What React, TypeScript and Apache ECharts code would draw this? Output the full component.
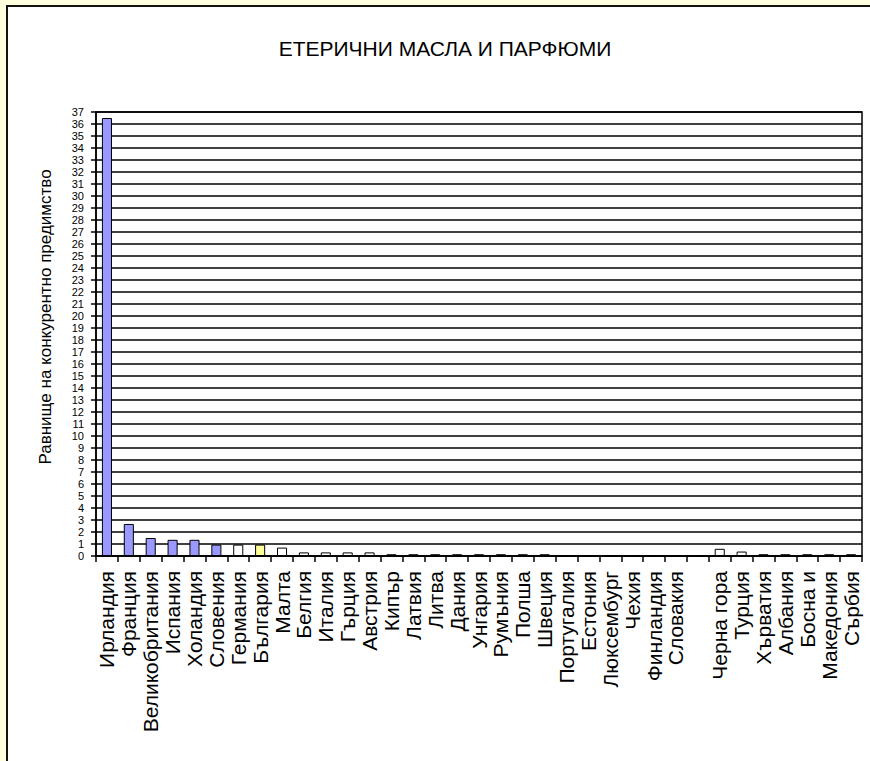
import React, { useEffect, useRef } from "react";
import * as echarts from "echarts";

const TITLE = "ЕТЕРИЧНИ МАСЛА И ПАРФЮМИ";
const Y_NAME = "Равнище на конкурентно предимство";

const categories: string[] = [
  "Ирландия", "Франция", "Великобритания", "Испания", "Холандия", "Словения",
  "Германия", "България", "Малта", "Белгия", "Италия", "Гърция", "Австрия",
  "Кипър", "Латвия", "Литва", "Дания", "Унгария", "Румъния", "Полша", "Швеция",
  "Португалия", "Естония", "Люксембург", "Чехия", "Финландия", "Словакия", "",
  "Черна гора", "Турция", "Хърватия", "Албания", "Босна и", "Македония", "Сърбия",
];

const values: number[] = [
  36.5, 2.67, 1.5, 1.35, 1.35, 0.95,
  0.95, 0.95, 0.7, 0.3, 0.3, 0.3, 0.3,
  0.15, 0.15, 0.15, 0.15, 0.15, 0.15, 0.15, 0.15,
  0, 0, 0, 0, 0, 0, 0,
  0.6, 0.37, 0.15, 0.15, 0.15, 0.15, 0.15,
];

// colour group per bar: "eu" (blue), "other" (white), "bg" (yellow)
const groups: string[] = [
  "eu", "eu", "eu", "eu", "eu", "eu",
  "other", "bg", "other", "other", "other", "other", "other",
  "other", "other", "other", "other", "other", "other", "other", "other",
  "other", "other", "other", "other", "other", "other", "other",
  "other", "other", "other", "other", "other", "other", "other",
];

const groupColors: Record<string, string> = {
  eu: "#9999FF",
  other: "#FFFFFF",
  bg: "#FFFF99",
};

const Y_MIN = 0;
const Y_MAX = 37;
const Y_INTERVAL = 1;

export default function App() {
  const ref = useRef<HTMLDivElement>(null);

  useEffect(() => {
    if (!ref.current) return;
    const chart = echarts.init(ref.current, undefined, { renderer: "svg" });
    const font = "'Liberation Sans', Arial, sans-serif";
    chart.setOption({
      animation: false,
      backgroundColor: "transparent",
      title: {
        text: TITLE,
        left: 440,
        top: 33,
        textAlign: "center",
        textStyle: {
          fontFamily: font,
          fontSize: 21,
          fontWeight: "normal",
          color: "#000",
        },
      },
      graphic: [
        {
          type: "text",
          x: 45,
          y: 317,
          rotation: Math.PI / 2,
          style: {
            text: Y_NAME,
            fontFamily: font,
            fontSize: 17,
            fill: "#000",
            align: "center",
            verticalAlign: "middle",
          },
        },
      ],
      grid: {
        left: 96,
        right: 8,
        top: 112,
        bottom: 205,
        show: true,
        borderColor: "#000",
        borderWidth: 1.5,
        backgroundColor: "transparent",
      },
      xAxis: {
        type: "category",
        data: categories,
        axisLine: { show: true, lineStyle: { color: "#000", width: 1.5 } },
        axisTick: {
          show: true,
          alignWithLabel: false,
          interval: 0,
          length: 6,
          lineStyle: { color: "#000", width: 1.5 },
        },
        axisLabel: {
          interval: 0,
          rotate: 90,
          margin: 15,
          fontFamily: font,
          fontSize: 21,
          color: "#000",
        },
      },
      yAxis: {
        type: "value",
        min: Y_MIN,
        max: Y_MAX,
        interval: Y_INTERVAL,
        axisLine: { show: true, lineStyle: { color: "#000", width: 1.5 } },
        axisTick: { show: true, length: 5, lineStyle: { color: "#000", width: 1.5 } },
        splitLine: { show: true, lineStyle: { color: "#000", width: 1.5 } },
        axisLabel: {
          margin: 12,
          showMinLabel: true,
          showMaxLabel: true,
          hideOverlap: false,
          fontFamily: font,
          fontSize: 11,
          lineHeight: 11,
          color: "#000",
        },
      },
      series: [
        {
          type: "bar",
          barWidth: "46%",
          data: values.map((v, i) => ({
            value: v,
            itemStyle: {
              color: groupColors[groups[i]],
              borderColor: "#000",
              borderWidth: 1,
            },
          })),
        },
      ],
    });
    return () => chart.dispose();
  }, []);

  return (
    <div
      style={{
        position: "fixed",
        left: 0,
        top: 0,
        width: 870,
        height: 761,
        overflow: "hidden",
        background: "#FFFFDD",
      }}
    >
      <div
        style={{
          position: "absolute",
          left: 6,
          top: 5,
          width: 870,
          height: 761,
          background: "#FFFFFF",
          borderLeft: "2px solid #111",
          borderTop: "2px solid #111",
          boxSizing: "border-box",
        }}
      />
      <div
        ref={ref}
        style={{ position: "absolute", left: 0, top: 0, width: 870, height: 761 }}
      />
    </div>
  );
}
